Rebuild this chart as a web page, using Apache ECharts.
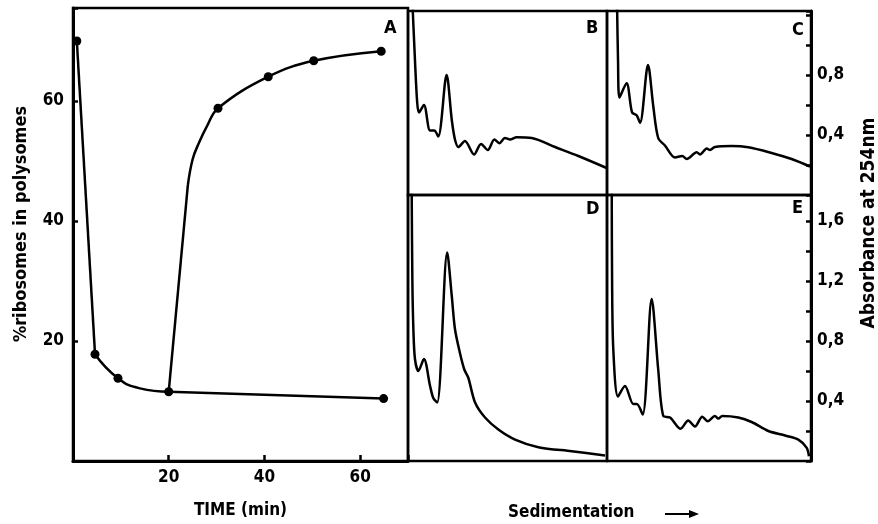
<!DOCTYPE html>
<html>
<head>
<meta charset="utf-8">
<script src="https://cdn.jsdelivr.net/npm/echarts@6/dist/echarts.min.js"></script>
<style>
  html, body { margin: 0; padding: 0; background: #fff; }
  #chart { width: 878px; height: 524px; }
</style>
</head>
<body>
<div id="chart"></div>
<script>
// panel A: % ribosomes in polysomes vs time (min)
const decayFast = [[0.8, 70], [4.6, 17.8]];
const decaySlow = [[4.6, 17.8], [9.4, 13.8], [14, 12.1], [20, 11.55]];
const plateau = [[20, 11.55], [64.9, 10.4]];
const recoveryRise = [[20, 11.55], [24.0, 46.0]];
const recoveryBend = [[24.0, 46.0], [25.0, 50.3], [26.3, 53.0], [28.0, 55.8], [30.3, 58.8], [40.8, 64.05], [50.3, 66.7], [64.4, 68.3]];
const measured = [[0.8, 70], [4.6, 17.8], [9.4, 13.8], [20, 11.55], [64.9, 10.4], [30.3, 58.8], [40.8, 64.05], [50.3, 66.7], [64.4, 68.3]];
const timeTicks = [20, 40, 60];
const pctTicks = [20, 40, 60];

// panels B-E: absorbance at 254 nm vs sedimentation (% of tube)
const profileB = [[2.0, 1.35], [3.5, 0.9], [4.6, 0.62], [5.5, 0.55], [8.0, 0.6], [11.1, 0.43], [13.2, 0.43], [15.2, 0.39],
  [19.4, 0.8], [22.0, 0.5], [23.6, 0.37], [25.3, 0.32], [28.6, 0.36], [33.2, 0.27], [36.7, 0.34], [40.1, 0.3],
  [43.4, 0.37], [45.9, 0.345], [48.7, 0.38], [51.3, 0.37], [54.6, 0.385], [62.2, 0.38], [73.9, 0.32], [85.6, 0.26], [99.8, 0.18]];
const profileC = [[4.9, 1.3], [5.4, 0.9], [6.1, 0.65], [9.6, 0.745], [12.3, 0.55], [14.6, 0.53], [16.2, 0.48],
  [20.1, 0.867], [22.7, 0.59], [25.1, 0.38], [28.4, 0.33], [33.3, 0.25], [36.9, 0.26], [39.1, 0.24], [44.0, 0.285],
  [45.6, 0.27], [48.9, 0.31], [50.5, 0.3], [52.9, 0.32], [61.1, 0.327], [69.3, 0.318], [80.7, 0.28], [90.5, 0.24], [99.5, 0.19]];
const profileD = [[1.8, 1.9], [2.2, 1.2], [2.7, 0.88], [3.5, 0.68], [5.2, 0.6], [8.0, 0.68], [11.1, 0.5], [12.7, 0.42],
  [14.7, 0.39], [19.7, 1.39], [22.0, 1.1], [23.6, 0.88], [26.1, 0.72], [28.3, 0.61], [30.3, 0.555], [33.7, 0.39],
  [38.7, 0.29], [45.4, 0.21], [53.8, 0.143], [65.5, 0.092], [82.3, 0.065], [99.0, 0.037]];
const profileE = [[2.3, 1.9], [2.5, 1.2], [3.1, 0.74], [5.4, 0.43], [8.8, 0.5], [12.9, 0.38], [14.6, 0.38], [17.5, 0.31],
  [21.9, 1.08], [25.1, 0.61], [27.6, 0.3], [30.9, 0.29], [36.1, 0.215], [39.8, 0.27], [43.1, 0.23], [46.7, 0.295],
  [49.4, 0.265], [52.9, 0.3], [54.6, 0.283], [56.5, 0.3], [64.4, 0.29], [70.9, 0.26], [79.1, 0.2], [87.3, 0.17],
  [93.8, 0.143], [97.9, 0.088], [99.0, 0.032]];
const absLabelsTop = [0.4, 0.8];
const absLabelsBottom = [0.4, 0.8, 1.2, 1.6];

const FONT = "'DejaVu Sans Condensed', 'DejaVu Sans', sans-serif";
const chart = echarts.init(document.getElementById("chart"), null, { renderer: "canvas" });

// 面板位置
const grids = [
  { left: 73, top: 8, width: 335, height: 453 },   // A
  { left: 408, top: 11, width: 199, height: 184 }, // B
  { left: 607, top: 11, width: 204, height: 184 }, // C
  { left: 408, top: 195, width: 199, height: 266 }, // D
  { left: 607, top: 195, width: 204, height: 266 }  // E
].map(g => Object.assign(g, { show: true, borderColor: "#000", borderWidth: 2.5, backgroundColor: "transparent", outerBoundsMode: "none", containLabel: false }));

const topMax = 184 / 150;
const bottomMax = 266 / 150;

const hideAxis = (gi, max) => ({ type: "value", gridIndex: gi, min: 0, max: max, show: false, axisLine: { onZero: false } });

const absAxis = (gi, max, shown) => ({
  type: "value", gridIndex: gi, position: "right", min: 0, max: max, interval: 0.2,
  axisLine: { show: true, onZero: false, lineStyle: { color: "#000", width: 3 } },
  axisTick: { show: true, inside: true, length: 5, lineStyle: { color: "#000", width: 2.5 } },
  splitLine: { show: false },
  axisLabel: {
    margin: 6, color: "#000", fontSize: 17, fontWeight: "bold", fontFamily: FONT,
    formatter: v => shown.some(s => Math.abs(s - v) < 1e-6) ? v.toFixed(1).replace(".", ",") : ""
  }
});

const lineSeries = (xi, data, smooth) => ({
  type: "line", xAxisIndex: xi, yAxisIndex: xi, data: data, smooth: smooth,
  symbol: "none", clip: true, silent: true,
  lineStyle: { color: "#000", width: 2.5 }
});

const option = {
  animation: false,
  backgroundColor: "#fff",
  grid: grids,
  xAxis: [
    {
      type: "value", gridIndex: 0, min: 0, max: 70, interval: 20,
      name: "TIME (min)", nameLocation: "middle", nameGap: 41,
      nameTextStyle: { color: "#000", fontSize: 17, fontWeight: "bold", fontFamily: FONT },
      axisLine: { show: true, onZero: false, lineStyle: { color: "#000", width: 3 } },
      axisTick: { show: true, inside: true, length: 6, lineStyle: { color: "#000", width: 2.5 } },
      splitLine: { show: false },
      axisLabel: { margin: 8, color: "#000", fontSize: 17, fontWeight: "bold", fontFamily: FONT,
        formatter: v => timeTicks.includes(v) ? String(v) : "" }
    },
    hideAxis(1, 100), hideAxis(2, 100), hideAxis(3, 100), hideAxis(4, 100)
  ],
  yAxis: [
    {
      type: "value", gridIndex: 0, min: 0, max: 453 / 6, interval: 20,
      axisLine: { show: true, onZero: false, lineStyle: { color: "#000", width: 3 } },
      axisTick: { show: true, inside: true, length: 5, lineStyle: { color: "#000", width: 2.5 } },
      splitLine: { show: false },
      axisLabel: { margin: 9, color: "#000", fontSize: 17, fontWeight: "bold", fontFamily: FONT,
        formatter: v => pctTicks.includes(v) ? String(v) : "" }
    },
    hideAxis(1, topMax),
    absAxis(2, topMax, absLabelsTop),
    hideAxis(3, bottomMax),
    absAxis(4, bottomMax, absLabelsBottom)
  ],
  series: [
    lineSeries(0, decayFast, false),
    lineSeries(0, decaySlow, 0.5),
    lineSeries(0, plateau, false),
    lineSeries(0, recoveryRise, false),
    lineSeries(0, recoveryBend, 0.4),
    {
      type: "scatter", xAxisIndex: 0, yAxisIndex: 0, data: measured,
      symbol: "circle", symbolSize: 9, itemStyle: { color: "#000", opacity: 1 }, silent: true
    },
    lineSeries(1, profileB, 0.3),
    lineSeries(2, profileC, 0.3),
    lineSeries(3, profileD, 0.3),
    lineSeries(4, profileE, 0.3)
  ],
  graphic: [
    { type: "text", left: 384, top: 19, style: { text: "A", font: "bold 18px " + FONT, fill: "#000" } },
    { type: "text", left: 586, top: 19, style: { text: "B", font: "bold 18px " + FONT, fill: "#000" } },
    { type: "text", left: 792, top: 21, style: { text: "C", font: "bold 18px " + FONT, fill: "#000" } },
    { type: "text", left: 586, top: 200, style: { text: "D", font: "bold 18px " + FONT, fill: "#000" } },
    { type: "text", left: 792, top: 199, style: { text: "E", font: "bold 18px " + FONT, fill: "#000" } },
    {
      type: "text", x: 21, y: 224, rotation: Math.PI / 2,
      style: { text: "%ribosomes in polysomes", font: "bold 18px " + FONT, fill: "#000", align: "center", verticalAlign: "middle" }
    },
    {
      type: "text", x: 869, y: 223, rotation: Math.PI / 2,
      style: { text: "Absorbance at 254nm", font: "bold 19px " + FONT, fill: "#000", align: "center", verticalAlign: "middle" }
    },
    { type: "text", x: 508, y: 513, style: { text: "Sedimentation", font: "bold 17px " + FONT, fill: "#000", verticalAlign: "middle" } },
    { type: "line", shape: { x1: 665, y1: 514, x2: 692, y2: 514 }, style: { stroke: "#000", lineWidth: 2 } },
    { type: "polygon", shape: { points: [[699, 514], [689, 510], [689, 518]] }, style: { fill: "#000" } }
  ]
};

chart.setOption(option);
</script>
</body>
</html>
